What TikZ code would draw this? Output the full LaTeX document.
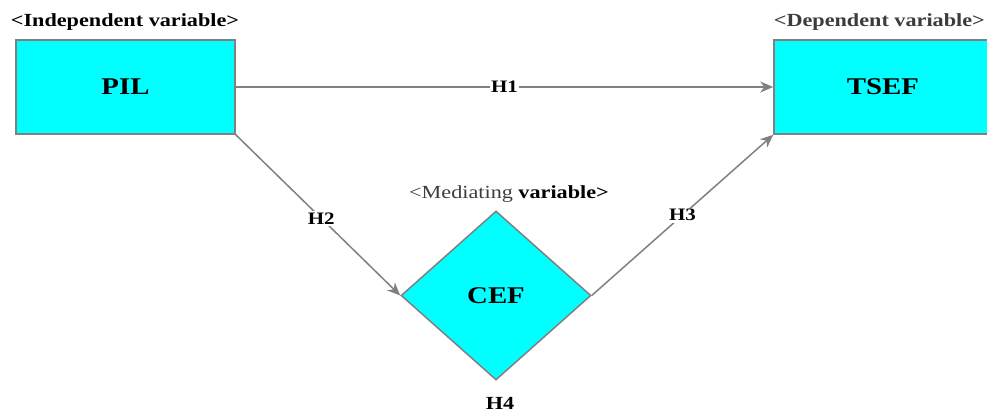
\documentclass[tikz,border=0pt]{standalone}
\usepackage{fontspec}
\setmainfont[FakeStretch=1.2]{Liberation Serif}
\usetikzlibrary{shapes.geometric,arrows.meta}
\definecolor{boxfill}{RGB}{0,255,255}
\definecolor{linegray}{RGB}{128,128,128}
\definecolor{txtgray}{RGB}{60,60,60}
\tikzset{
  varbox/.style={draw=linegray, line width=1.5pt, fill=boxfill, minimum width=219pt, minimum height=94pt, inner sep=0pt, font=\fontsize{24}{27}\selectfont\bfseries},
  medbox/.style={draw=linegray, line width=1.5pt, fill=boxfill, diamond, minimum width=190pt, minimum height=169pt, inner sep=0pt, font=\fontsize{24}{27}\selectfont\bfseries},
  conn/.style={draw=linegray, line width=1.5pt, -{Stealth[length=13pt,width=11pt,inset=4pt]}},
  hlab/.style={fill=white, inner sep=1.5pt, font=\fontsize{17.5}{20}\selectfont\bfseries},
  vcaption/.style={inner sep=0pt, font=\fontsize{18.5}{21}\selectfont\bfseries},
}
\begin{document}
\begin{tikzpicture}[x=1pt,y=-1pt]
\useasboundingbox (0,0) rectangle (987,412);
\node[varbox] (pil) at (125.5,87) {PIL};
\node[varbox, minimum width=218pt] (tsef) at (883,87) {TSEF};
\node[medbox] (cef) at (496,295.5) {CEF};
\node[vcaption] (indep) at (125,22) {<Independent variable>};
\node[vcaption, text=txtgray, anchor=east] (dep) at (985,22) {<Dependent variable>};
\node[vcaption] (med) at (509,194) {\textcolor{txtgray}{\mdseries <Mediating} variable>};
\node[vcaption] (h4) at (500,403) {H4};
\draw[conn] (pil.east) -- node[hlab] (h1) {H1} (tsef.west);
\draw[conn] (pil.south east) -- node[hlab, pos=0.52] (h2) {H2} (cef.west);
\draw[conn] (cef.east) -- node[hlab, pos=0.5] (h3) {H3} (tsef.south west);
\end{tikzpicture}
\end{document}
